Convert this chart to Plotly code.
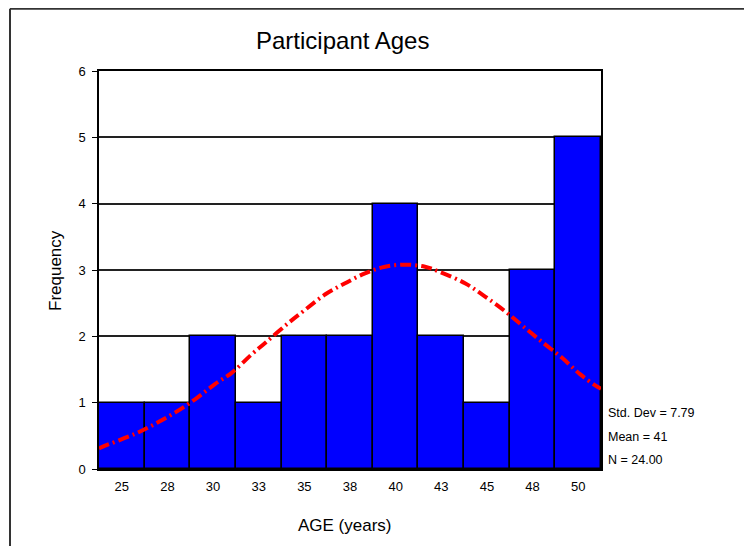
import plotly.graph_objects as go

# Data
bin_centers = [25, 27.5, 30, 32.5, 35, 37.5, 40, 42.5, 45, 47.5, 50]
tick_labels = ["25", "28", "30", "33", "35", "38", "40", "43", "45", "48", "50"]
frequency = [1, 1, 2, 1, 2, 2, 4, 2, 1, 3, 5]
bin_width = 2.5

# Normal curve points
curve_x = [23.75, 23.9, 25.72, 26.82, 27.91, 29.01, 30.1, 31.02, 32.12, 32.85, 34.12,
           35.04, 36.13, 37.23, 38.32, 39.42, 40.52, 41.61, 42.34, 43.8, 44.9, 45.99,
           46.99, 48.09, 49.1, 50.1, 50.93, 51.25]
curve_y = [0.31, 0.33, 0.53, 0.68, 0.85, 1.05, 1.28, 1.45, 1.73, 1.90, 2.20,
           2.40, 2.63, 2.80, 2.95, 3.05, 3.08, 3.05, 2.98, 2.80, 2.60, 2.38,
           2.15, 1.90, 1.68, 1.43, 1.26, 1.21]

stats = ["Std. Dev = 7.79", "Mean = 41", "N = 24.00"]

FONT = "Liberation Sans, Arial, sans-serif"

# page body has an 8px default margin; compensate so the plot lands where the reference has it
OFF = 8
L, T, R, B = 99 - OFF, 71 - OFF, 601 - OFF, 469 - OFF
PW, PH = R - L, B - T

fig = go.Figure()
fig.add_trace(go.Bar(
    x=bin_centers, y=frequency, width=bin_width,
    marker=dict(color="#0000ff", line=dict(color="black", width=1.5)),
    hoverinfo="skip",
))
fig.add_trace(go.Scatter(
    x=curve_x, y=curve_y, mode="lines", line_shape="spline",
    line=dict(color="#ff0000", width=4, dash="11px,4px,2px,4px"),
    hoverinfo="skip",
))

fig.update_layout(
    width=752, height=546,
    margin=dict(l=L, r=752 - R, t=T, b=546 - B),
    paper_bgcolor="white", plot_bgcolor="white",
    showlegend=False, bargap=0,
    font=dict(family=FONT, color="black", size=13),
    xaxis=dict(
        range=[23.75, 51.25], tickvals=bin_centers, ticktext=tick_labels,
        showgrid=False, zeroline=False, showline=True, linecolor="black", linewidth=1.5,
        mirror=True, ticks="outside", ticklen=5, tickcolor="rgba(0,0,0,0)",
        tickfont=dict(size=13),
    ),
    yaxis=dict(
        range=[0, 6], tickvals=[0, 1, 2, 3, 4, 5, 6],
        showgrid=True, gridcolor="#222222", gridwidth=1.5, zeroline=False,
        showline=True, linecolor="black", linewidth=1.5, mirror=True,
        ticks="outside", ticklen=5, tickcolor="black", tickfont=dict(size=13),
        ticklabelstandoff=4,
    ),
)

def px_x(x):
    return (x - OFF - L) / PW

def px_y(y):
    return (B - (y - OFF)) / PH

annotations = [
    dict(text="Participant Ages", xref="paper", yref="paper", x=px_x(342), y=px_y(40),
         xanchor="center", yanchor="middle", showarrow=False, font=dict(size=24)),
    dict(text="Frequency", xref="paper", yref="paper", x=px_x(55), y=px_y(271), textangle=-90,
         xanchor="center", yanchor="middle", showarrow=False, font=dict(size=17)),
    dict(text="AGE (years)", xref="paper", yref="paper", x=px_x(345), y=px_y(525),
         xanchor="center", yanchor="middle", showarrow=False, font=dict(size=17)),
]
for i, s in enumerate(stats):
    annotations.append(dict(text=s, xref="paper", yref="paper", x=px_x(606),
                            y=px_y(413 + 23.5 * i), xanchor="left", yanchor="middle",
                            showarrow=False, font=dict(size=12.5)))
fig.update_layout(annotations=annotations)

# outer frame (left and top edges)
fig.add_shape(type="line", xref="paper", yref="paper",
              x0=px_x(10), x1=px_x(760), y0=px_y(8.8), y1=px_y(8.8),
              line=dict(color="#333333", width=2))
fig.add_shape(type="line", xref="paper", yref="paper",
              x0=px_x(10), x1=px_x(10), y0=px_y(8.8), y1=px_y(560),
              line=dict(color="#333333", width=2))

fig.write_html("out.html")
